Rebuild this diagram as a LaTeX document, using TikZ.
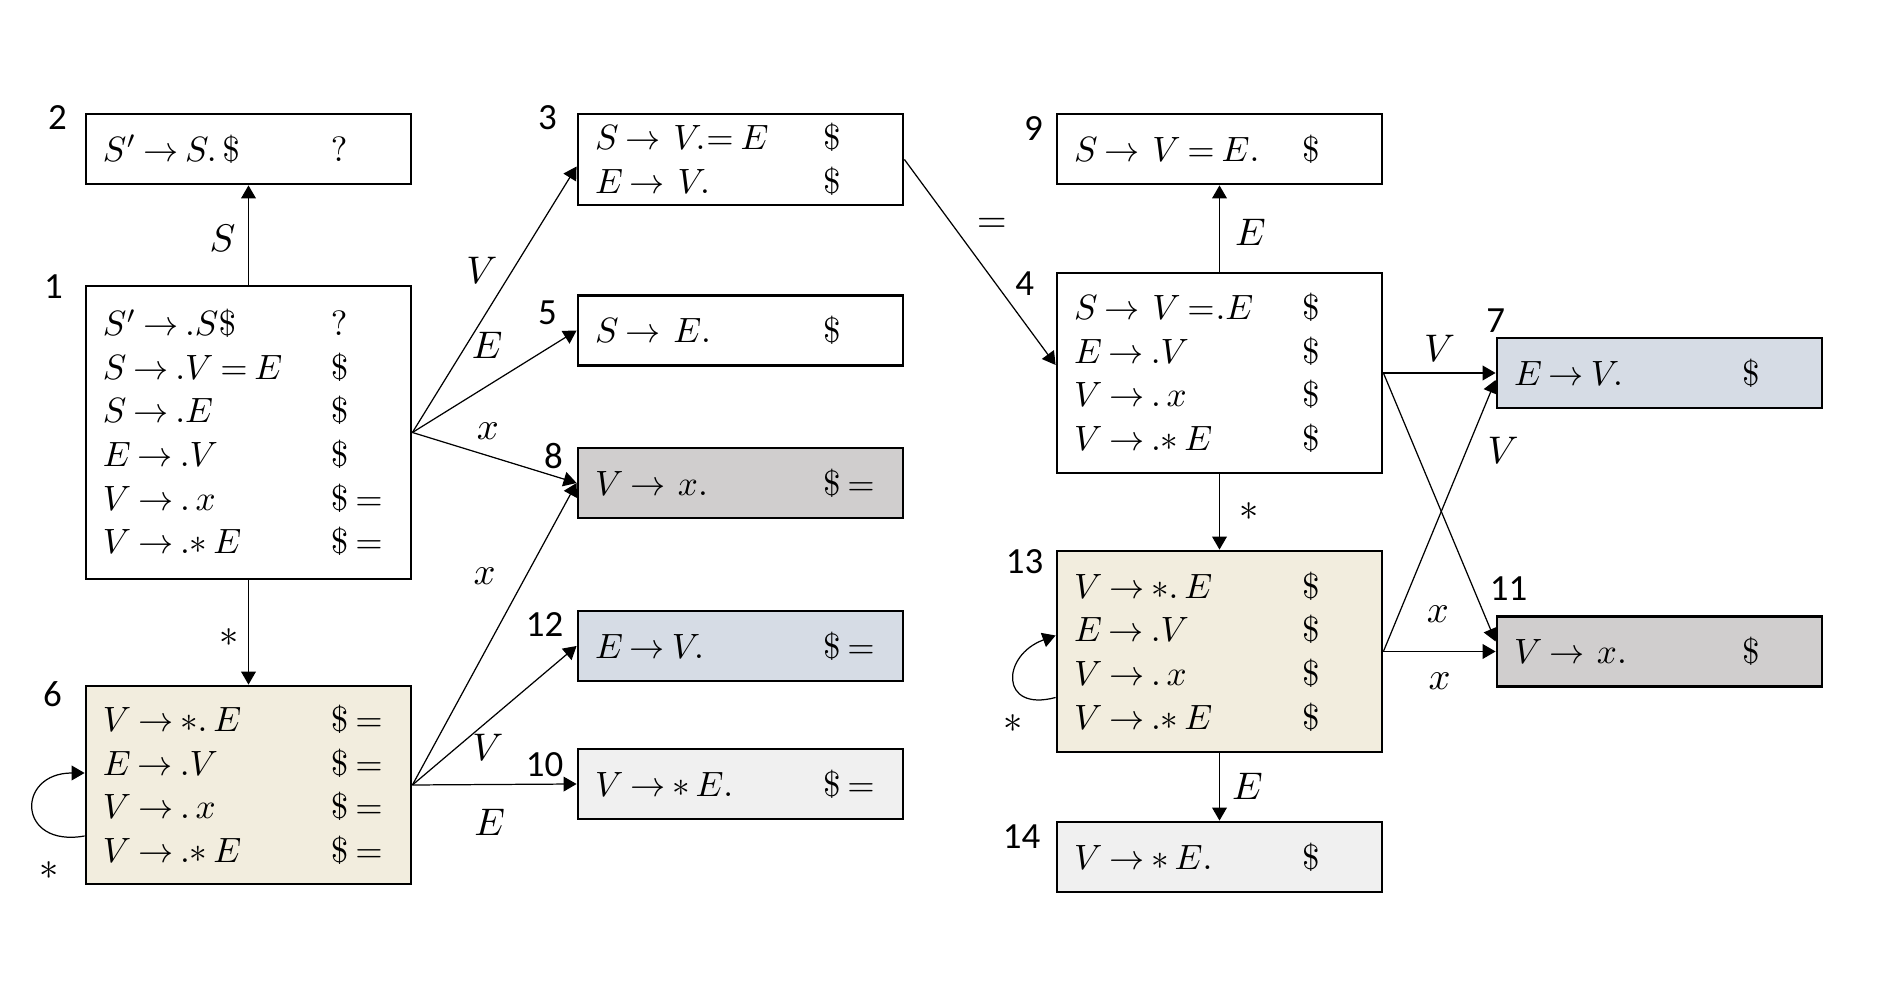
\documentclass[tikz,border=0pt]{standalone}
\usepackage{fontspec}
\usepackage{amsmath}
\usepackage{amssymb}
\usetikzlibrary{positioning,arrows.meta}
\newfontfamily\numfont{Carlito}
\definecolor{itembeige}{HTML}{F2EDDE}
\definecolor{reduceblue}{HTML}{D6DCE5}
\definecolor{shiftgray}{HTML}{D0CECE}
\definecolor{palegray}{HTML}{F0F0F0}
\thickmuskip=3.5mu plus 2mu
\newcommand{\itm}[2]{\makebox[2.28cm][l]{$#1$}$#2$}

\begin{document}
\begin{tikzpicture}[-{Triangle[length=3.7pt,width=4.2pt]}, on grid, line width=0.35pt,
    state/.style={rectangle, draw, line width=0.8pt, minimum width=3.25cm,
    minimum height=0.7cm, inner xsep=0.17cm, inner ysep=0pt, text width=2.91cm,
    align=left, font=\fontsize{10.2}{12.4}\selectfont},
    num/.style={font=\numfont\fontsize{10.5}{12}\selectfont, inner sep=0pt},
    lbl/.style={inner sep=1pt, font=\fontsize{10.5}{12.4}\selectfont}
    ]
    \useasboundingbox (0,0) rectangle (18.84,-10);
    \node[state, minimum height=2.93cm] (s1) at (2.485,-4.325) {\itm{S'\to .S\$}{?}\\
      \itm{S\to .V=E}{\$}\\ \itm{S\to .E}{\$}\\ \itm{E\to .V}{\$}\\
      \itm{V\to .\,x}{\$ =}\\ \itm{V\to .{\ast}\,E}{\$ =}};
    \node[state] (s2) [above=2.835cm of s1] {\itm{S'\to S.\,\$}{?}};
    \node[state, fill=itembeige, minimum height=1.98cm] (s6) [below=3.525cm of s1]
      {\itm{V\to {\ast}.\,E}{\$ =}\\ \itm{E\to .V}{\$ =}\\ \itm{V\to .\,x}{\$ =}\\
      \itm{V\to .{\ast}\,E}{\$ =}};
    \node[state, minimum height=0.91cm] (s3) [above right=2.73cm and 4.92cm of s1]
      {\itm{S\to\,V.\!=E}{\$}\\ \itm{E\to\,V.}{\$}};
    \node[state] (s5) [below=1.71cm of s3] {\itm{S\to\,E.}{\$}};
    \node[state, fill=shiftgray] (s8) [below=1.525cm of s5] {\itm{V\to\,x.}{\$ =}};
    \node[state, fill=reduceblue] (s12) [below=1.63cm of s8] {\itm{E\to V.}{\$ =}};
    \node[state, fill=palegray] (s10) [below=1.38cm of s12] {\itm{V\to {\ast}\,E.}{\$ =}};
    \node[state, minimum height=2cm] (s4) [above right=0.595cm and 9.71cm of s1]
      {\itm{S\to\,V=\!.E}{\$}\\ \itm{E\to .V}{\$}\\ \itm{V\to .\,x}{\$}\\
      \itm{V\to .{\ast}\,E}{\$}};
    \node[state] (s9) [above=2.24cm of s4] {\itm{S\to\,V=E.}{\$}};
    \node[state, fill=itembeige, minimum height=2.01cm] (s13) [below=2.785cm of s4]
      {\itm{V\to {\ast}.\,E}{\$}\\ \itm{E\to .V}{\$}\\ \itm{V\to .\,x}{\$}\\
      \itm{V\to .{\ast}\,E}{\$}};
    \node[state, fill=palegray] (s14) [below=2.055cm of s13] {\itm{V\to {\ast}\,E.}{\$}};
    \node[state, fill=reduceblue] (s7) [right=4.4cm of s4] {\itm{E\to V.}{\$}};
    \node[state, fill=shiftgray] (s11) [right=4.4cm of s13] {\itm{V\to\,x.}{\$}};

    \node[num] (n1) at ([shift={(-0.31,-0.02)}]s1.north west) {1};
    \node[num] (n2) at ([shift={(-0.27,-0.05)}]s2.north west) {2};
    \node[num] (n3) at ([shift={(-0.29,-0.05)}]s3.north west) {3};
    \node[num] (n4) at ([shift={(-0.31,-0.12)}]s4.north west) {4};
    \node[num] (n5) at ([shift={(-0.29,-0.19)}]s5.north west) {5};
    \node[num] (n6) at ([shift={(-0.32,-0.10)}]s6.north west) {6};
    \node[num] (n7) at ([shift={(0,0.16)}]s7.north west) {7};
    \node[num] (n8) at ([shift={(-0.23,-0.09)}]s8.north west) {8};
    \node[num] (n9) at ([shift={(-0.22,-0.16)}]s9.north west) {9};
    \node[num] (n10) at ([shift={(-0.32,-0.17)}]s10.north west) {10};
    \node[num] (n11) at ([shift={(0.13,0.26)}]s11.north west) {11};
    \node[num] (n12) at ([shift={(-0.32,-0.15)}]s12.north west) {12};
    \node[num] (n13) at ([shift={(-0.31,-0.12)}]s13.north west) {13};
    \node[num] (n14) at ([shift={(-0.34,-0.16)}]s14.north west) {14};

    \draw (s1) -- node[lbl, pos=0.47, left=0.09cm] (e12) {$S$} (s2);
    \draw (s1) -- node[lbl, pos=0.55, left=0.06cm] (e16) {$\ast$} (s6);
    \draw (s1.east) -- node[lbl, pos=0.61, left=0.11cm] (e13) {$V$} ([yshift=-0.07cm]s3.west);
    \draw (s1.east) -- node[lbl, pos=0.455, above=0.23cm] (e15) {$E$} (s5.west);
    \draw (s1.east) -- node[lbl, pos=0.46, above=0.125cm] (e18) {$x$} (s8.west);
    \draw (s6.east) -- node[lbl, pos=0.69, left=0.26cm] (e68) {$x$} (s8.west);
    \draw (s6.east) -- node[lbl, pos=0.46, below=0.09cm] (e612) {$V$} (s12.west);
    \draw (s6.east) -- node[lbl, pos=0.47, below=0.21cm] (e610) {$E$} (s10.west);
    \draw ([yshift=-0.51cm]s6.west) to[out=190, in=180, looseness=2.8]
      node[lbl, at start, xshift=-0.35cm, yshift=-0.35cm] (e66) {$\ast$} ([yshift=0.12cm]s6.west);
    \draw (s3.east) -- node[lbl, pos=0.32, right=0.2cm] (e34) {$=$} ([yshift=0.08cm]s4.west);
    \draw (s4) -- node[lbl, pos=0.45, right=0.115cm] (e49) {$E$} (s9);
    \draw (s4) -- node[lbl, right=0.16cm] (e413) {$\ast$} (s13);
    \draw (s13) -- node[lbl, pos=0.49, right=0.085cm] (e1314) {$E$} (s14);
    \draw (s4.east) -- node[lbl, above=0.07cm] (e47) {$V$} (s7.west);
    \draw (s4.east) -- node[lbl, pos=0.9, left=0.315cm] (e411) {$x$} ([yshift=0.1cm]s11.west);
    \draw (s13.east) -- node[lbl, pos=0.74, right=0.17cm] (e137) {$V$} ([yshift=-0.07cm]s7.west);
    \draw (s13.east) -- node[lbl, below=0.17cm] (e1311) {$x$} (s11.west);
    \draw ([yshift=-0.46cm]s13.west) to[out=195, in=200, looseness=2.4]
      node[lbl, at start, xshift=-0.42cm, yshift=-0.26cm] (e1313) {$\ast$} ([yshift=0.16cm]s13.west);
\end{tikzpicture}
\end{document}
